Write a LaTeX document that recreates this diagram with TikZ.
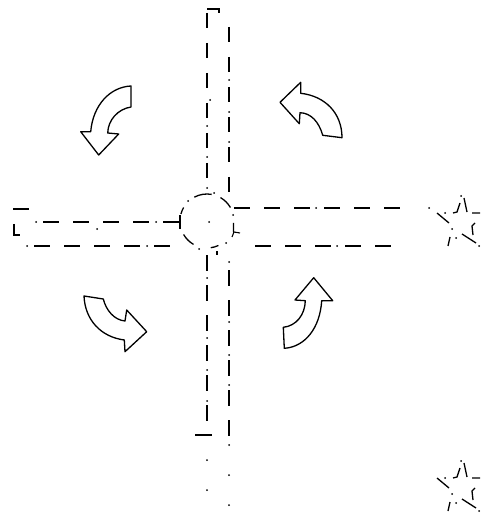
\documentclass[tikz,border=0pt]{standalone}
\tikzset{
  roadline/.style={line width=1.5pt, dash pattern=on 15.5pt off 14.5pt},
  ringline/.style={line width=1.3pt},
  turnarrow/.style={line width=1.3pt, line join=round},
  edgemark/.style={line width=1.1pt}
}
\begin{document}
\begin{tikzpicture}[x=1pt, y=-1pt]
  \useasboundingbox (0,0) rectangle (480,518);
  \draw[roadline] (207,13) -- (207,192);
  \draw[roadline] (229,27) -- (229,192);
  \draw[roadline] (207,255) -- (207,422);
  \draw[roadline] (229,270) -- (229,436);
  \draw[roadline] (43,222) -- (180,222);
  \draw[roadline] (34,246) -- (171,246);
  \draw[roadline] (234,208) -- (400,208);
  \draw[roadline] (255,246) -- (391,246);
  \foreach \p in {(207,126),(207,157),(207,188),(210,100),(207,278),(207,338),(207,370),(207,401),(207,460),(207,490),
                  (229,80),(229,112),(229,142),(229,262),(229,322),(229,355),(229,385),(229,445),(229,475),(229,505),
                  (36,222),(156,222),(97,229),(27,246),(147,246),(429,208),(316,208),(337,246),(209,222),
                  (214,193),(188,201),(226,243),(199,249),(233,215)}
    \fill \p circle (1);
  \foreach \a/\b in {-118/-80, -60/-30, 65/82, 120/150, -165/-150}
    \draw[ringline] (207,221) ++(\a:27) arc[start angle=\a, end angle=\b, radius=27];
  \draw[edgemark] (207,9) -- (219,9) -- (219,13);
  \draw[edgemark] (13,209) -- (29,209);
  \draw[edgemark] (14,224) -- (14,235) -- (20,235);
  \draw[edgemark] (195,435) -- (212,435);
  \draw[line width=1.8pt] (180,215) -- (180,229);
  \draw[edgemark] (233.5,223) -- (233.5,232) (232,237) -- (234,232) -- (240,233);
  \draw[edgemark] (217,251) -- (217,255);
  \foreach \dy in {0,265} {
    \begin{scope}[yshift=-\dy pt]
      \draw[ringline] (464,198) -- (467,212) (472,213) -- (480,213) (460,203) -- (457,212) -- (453,213)
        (437,213) -- (449,223) (450,237) -- (448,246) (462,234) -- (476,243)
        (475,223) -- (472,226) -- (473,235);
      \foreach \p in {(461,196),(445,213),(452,229),(456,238),(479,246)}
        \fill \p circle (1);
    \end{scope}
  }
  \draw[turnarrow] (131,86) -- (131,107) .. controls (118,109) and (108,120) .. (107.7,133) -- (118.7,134)
    -- (98.7,155) -- (80.7,131.7) -- (90.7,131.7) .. controls (93,105) and (110,87) .. cycle;
  \draw[turnarrow] (342,137.7) -- (322.7,135.3) .. controls (319,122) and (311,113) .. (300,112.7) -- (299.3,123.7)
    -- (280,102.3) -- (300.7,82.3) -- (300.7,93.3) .. controls (325,96) and (342,113) .. cycle;
  \draw[turnarrow] (84,296) -- (103.3,299) .. controls (106,310) and (114,320) .. (125,321) -- (126.7,310)
    -- (146.7,331.7) -- (125,351.7) -- (124.3,340) .. controls (101,337) and (85,320) .. cycle;
  \draw[turnarrow] (283.3,327.3) .. controls (296,326) and (305,315) .. (305.3,300.7) -- (295,300)
    -- (313.7,277.7) -- (332.7,300.7) -- (321.7,300.7) .. controls (320,328) and (305,347) .. (284.3,348.3) -- cycle;
\end{tikzpicture}
\end{document}
